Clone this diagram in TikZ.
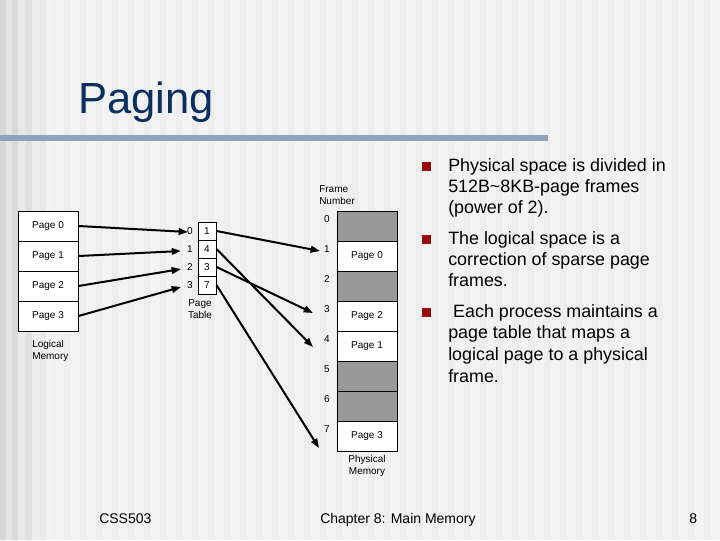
\documentclass[tikz,border=0pt]{standalone}
\usepackage{fontspec}
\setmainfont{Liberation Sans}
\usetikzlibrary{arrows.meta}
\definecolor{titleblue}{HTML}{0B2F5E}
\definecolor{barblue}{HTML}{8FA3BD}
\definecolor{bulletred}{HTML}{9A0A0A}
\definecolor{framegray}{HTML}{999999}
\definecolor{bgA}{HTML}{F3F3F3}
\definecolor{bgB}{HTML}{EDEDED}
\begin{document}
\begin{tikzpicture}[x=0.75pt,y=-0.75pt,
  small/.style={font=\fontsize{7.5}{9}\selectfont, inner sep=0pt},
  lcell/.style={draw, fill=white, line width=0.75pt, minimum width=45pt, minimum height=22.5pt, inner sep=0pt, font=\fontsize{7.5}{9}\selectfont},
  tcell/.style={draw, fill=white, line width=0.75pt, minimum width=13.5pt, minimum height=13.5pt, inner sep=0pt, font=\fontsize{7.5}{9}\selectfont},
  gcell/.style={lcell, fill=framegray},
  arr/.style={line width=1.5pt, -{Triangle[length=7pt,width=5pt]}},
  btext/.style={font=\fontsize{13.4}{16}\selectfont, inner sep=0pt, anchor=base west},
  foot/.style={font=\fontsize{10.5}{13}\selectfont, inner sep=0pt, anchor=base west}]
% background
\useasboundingbox (0,0) rectangle (720,540);
\fill[bgA] (0,0) rectangle (720,540);
\foreach \x in {0,16,...,704} { \fill[bgB] (\x,0) rectangle (\x+7,540); }
\fill[black!16] (0,0) rectangle (6,540);
\fill[black!11] (6,0) rectangle (12,540);
\fill[black!15] (12,0) rectangle (18,540);
\fill[black!9] (18,0) rectangle (26,540);
\fill[black!12] (26,0) rectangle (32,540);
\fill[black!7] (32,0) rectangle (40,540);
\fill[black!9] (40,0) rectangle (46,540);
\fill[black!5] (46,0) rectangle (54,540);
% title
\node[font=\fontsize{32.7}{38}\selectfont, text=titleblue, inner sep=0pt, anchor=base west] (title) at (78,113) {Paging};
\fill[barblue] (0,135) rectangle (548,141);
% logical memory
\node[lcell] (lp0) at (48,226) {Page 0};
\node[lcell] (lp1) at (48,256) {Page 1};
\node[lcell] (lp2) at (48,286) {Page 2};
\node[lcell] (lp3) at (48,316) {Page 3};
\node[small, align=left, anchor=west] (lmlab) at (32,351) {Logical\\Memory};
% page table
\node[tcell] (pt0) at (207,231) {1};
\node[tcell] (pt1) at (207,249) {4};
\node[tcell] (pt2) at (207,267) {3};
\node[tcell] (pt3) at (207,285) {7};
\node[small] (i0) at (190,231) {0};
\node[small] (i1) at (190,249) {1};
\node[small] (i2) at (190,267) {2};
\node[small] (i3) at (190,285) {3};
\node[small, align=center] (ptlab) at (200,309) {Page\\Table};
% physical memory
\node[gcell] (f0) at (367,226) {};
\node[lcell] (f1) at (367,256) {Page 0};
\node[gcell] (f2) at (367,286) {};
\node[lcell] (f3) at (367,316) {Page 2};
\node[lcell] (f4) at (367,346) {Page 1};
\node[gcell] (f5) at (367,376) {};
\node[gcell] (f6) at (367,406) {};
\node[lcell] (f7) at (367,436) {Page 3};
\foreach \k in {0,...,7} { \node[small] (fn\k) at (327,219+30*\k) {\k}; }
\node[small, align=left, anchor=west] (fnlab) at (319,195) {Frame\\Number};
\node[small, align=center] (pmlab) at (367,466) {Physical\\Memory};
% arrow tips
\coordinate (a0) at (188,232);
\coordinate (a1) at (181,251);
\coordinate (a2) at (181,269);
\coordinate (a3) at (181,287);
\coordinate (b0) at (320,251);
\coordinate (b1) at (313,347);
\coordinate (b2) at (313,313);
\coordinate (b3) at (319,448);
\draw[arr] (lp0.east) -- (a0);
\draw[arr] (lp1.east) -- (a1);
\draw[arr] (lp2.east) -- (a2);
\draw[arr] (lp3.east) -- (a3);
\draw[arr] (pt0.east) -- (b0);
\draw[arr] (pt1.east) -- (b1);
\draw[arr] (pt2.east) -- (b2);
\draw[arr] (pt3.east) -- (b3);
% bullets
\fill[bulletred] (422,162) rectangle (431,171);
\fill[bulletred] (422,235) rectangle (431,244);
\fill[bulletred] (422,308) rectangle (431,317);
\node[btext] (t11) at (448,171) {Physical space is divided in};
\node[btext] (t12) at (448,192) {512B\char`\~8KB-page frames};
\node[btext] (t13) at (448,213) {(power of 2).};
\node[btext] (t21) at (448,244) {The logical space is a};
\node[btext] (t22) at (448,265) {correction of sparse page};
\node[btext] (t23) at (448,286) {frames.};
\node[btext] (t31) at (448,317) {\ Each process maintains a};
\node[btext] (t32) at (448,338) {page table that maps a};
\node[btext] (t33) at (448,360) {logical page to a physical};
\node[btext] (t34) at (448,382) {frame.};
% footer
\node[foot] (f_l) at (99,523) {CSS503};
\node[foot] (f_c) at (320,523) {Chapter 8: Main Memory};
\node[foot] (f_r) at (689,523) {8};
\end{tikzpicture}
\end{document}
